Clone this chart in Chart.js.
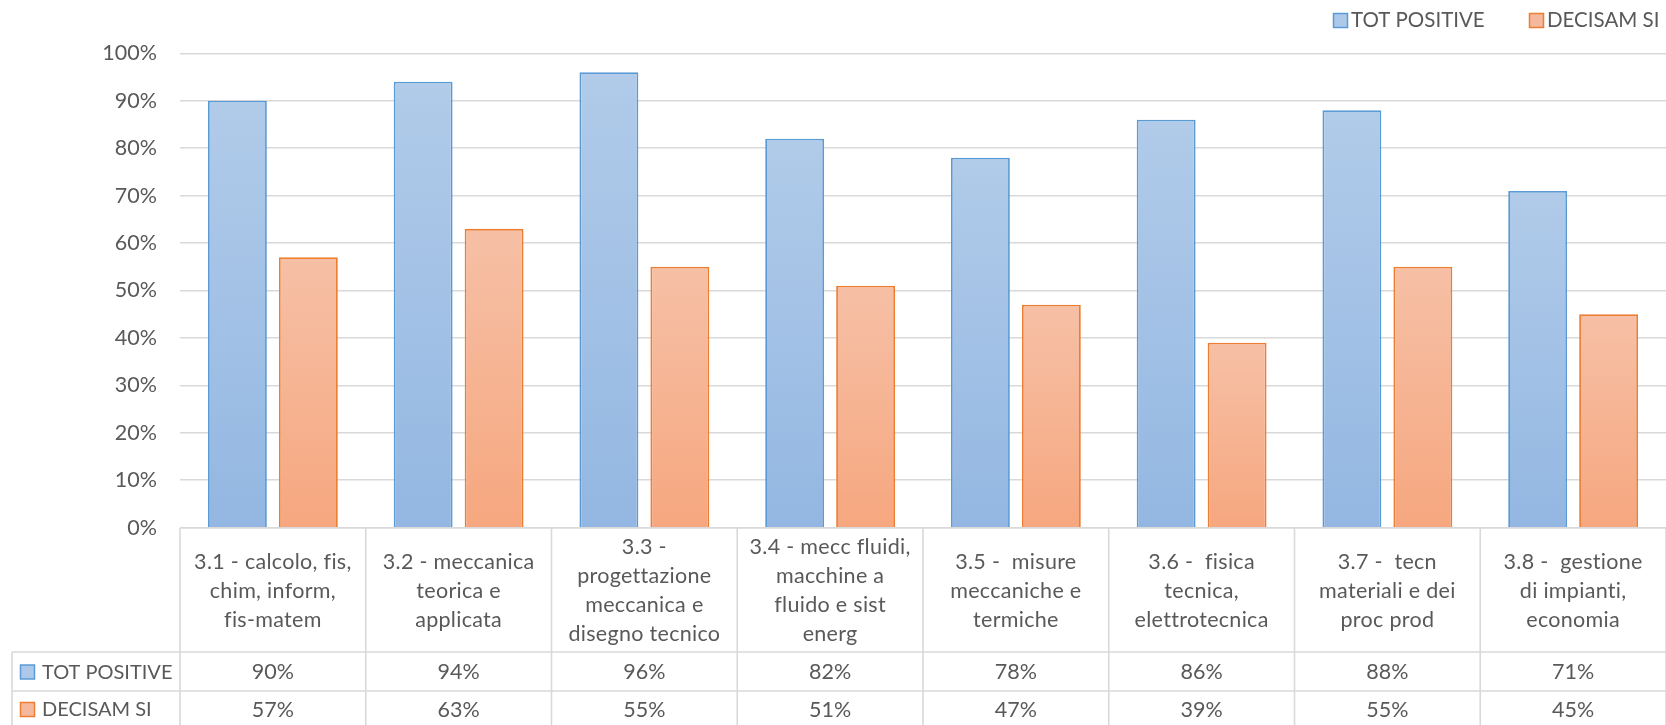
<!DOCTYPE html>
<html>
<head>
<meta charset="utf-8">
<script src="https://cdn.jsdelivr.net/npm/chart.js@4"></script>
<style>
  html, body { margin: 0; padding: 0; background: #ffffff; }
  #wrap { width: 1666px; height: 725px; }
</style>
</head>
<body>
<div id="wrap"><canvas id="c" width="1666" height="725"></canvas></div>
<script>
// Category labels (already wrapped into lines as they appear in the data table)
const categories = [
  ["3.1 - calcolo, fis,", "chim, inform,", "fis-matem"],
  ["3.2 - meccanica", "teorica e", "applicata"],
  ["3.3 -", "progettazione", "meccanica e", "disegno tecnico"],
  ["3.4 - mecc fluidi,", "macchine a", "fluido e sist", "energ"],
  ["3.5 -  misure", "meccaniche e", "termiche"],
  ["3.6 -  fisica", "tecnica,", "elettrotecnica"],
  ["3.7 -  tecn", "materiali e dei", "proc prod"],
  ["3.8 -  gestione", "di impianti,", "economia"]
];

// Series values, percent
const seriesNames = ["TOT POSITIVE", "DECISAM SI"];
const totPositive = [90, 94, 96, 82, 78, 86, 88, 71];
const decisamSi   = [57, 63, 55, 51, 47, 39, 55, 45];

// Y axis tick values, percent
const yTicks = [0, 10, 20, 30, 40, 50, 60, 70, 80, 90, 100];

const FONT = "Lato, 'Open Sans', sans-serif";
const TEXT = "#595959";
const GRID = "#d9d9d9";

const palette = [
  { border: "#5b9bd5", top: "#b1cbe9", bottom: "#93b7e2", key: "#adc8e8" },
  { border: "#ed7d31", top: "#f6c0a6", bottom: "#f6a77f", key: "#f5b89c" }
];

function barGradient(i) {
  return function (ctx) {
    const chart = ctx.chart;
    const p = palette[i];
    if (!chart.chartArea || ctx.type !== "data") return p.bottom;
    const ys = chart.scales.y;
    const top = ys.getPixelForValue(ctx.raw);
    const bottom = ys.getPixelForValue(0);
    if (!isFinite(top) || !isFinite(bottom) || bottom - top < 1) return p.bottom;
    const g = chart.ctx.createLinearGradient(0, top, 0, bottom);
    g.addColorStop(0, p.top);
    g.addColorStop(1, p.bottom);
    return g;
  };
}

// Legend box plus data table drawn under the plot area, aligned to the x scale
const dataTablePlugin = {
  id: "dataTable",
  afterDraw(chart) {
    const ctx = chart.ctx;
    const area = chart.chartArea;
    const xs = chart.scales.x;
    const n = categories.length;
    const colW = (area.right - area.left) / n;
    const tableLeft = 12;
    const row1Top = 652;
    const row2Top = 691;
    const tableBottom = chart.height;

    ctx.save();
    // grid of the table
    ctx.strokeStyle = GRID;
    ctx.lineWidth = 1.6;
    ctx.beginPath();
    ctx.moveTo(area.left, area.bottom); ctx.lineTo(area.right, area.bottom);
    ctx.moveTo(tableLeft, row1Top); ctx.lineTo(area.right, row1Top);
    ctx.moveTo(tableLeft, row2Top); ctx.lineTo(area.right, row2Top);
    for (let i = 0; i <= n; i++) {
      const x = area.left + i * colW;
      ctx.moveTo(x, area.bottom); ctx.lineTo(x, tableBottom);
    }
    ctx.moveTo(tableLeft, row1Top); ctx.lineTo(tableLeft, tableBottom);
    ctx.stroke();

    // category labels
    ctx.fillStyle = TEXT;
    ctx.font = "21.5px " + FONT;
    ctx.letterSpacing = "0.3px";
    ctx.textAlign = "center";
    ctx.textBaseline = "middle";
    const lineH = 28.9;
    const catMid = (area.bottom + row1Top) / 2 + 1;
    categories.forEach((lines, i) => {
      const cx = xs.getPixelForValue(i);
      const y0 = catMid - (lines.length - 1) * lineH / 2;
      lines.forEach((t, k) => ctx.fillText(t, cx, y0 + k * lineH));
    });

    // value rows
    const rows = [
      { values: totPositive, y: 672.5 },
      { values: decisamSi, y: 710 }
    ];
    ctx.letterSpacing = "0px";
    rows.forEach((r) => {
      r.values.forEach((v, i) => {
        ctx.fillText(v + "%", xs.getPixelForValue(i), r.y);
      });
    });

    // row headers with legend keys
    ctx.font = "20px " + FONT;
    ctx.textAlign = "left";
    rows.forEach((r, s) => {
      drawKey(ctx, 20.5, r.y - 7.5, s);
      ctx.fillStyle = TEXT;
      ctx.fillText(seriesNames[s], 42, r.y);
    });

    // top legend
    ctx.font = "20.5px " + FONT;
    const legendY = 20.5;
    const legendItems = [
      { key: 1333.5, text: 1351 },
      { key: 1529.5, text: 1547 }
    ];
    legendItems.forEach((it, s) => {
      drawKey(ctx, it.key, legendY - 7, s);
      ctx.fillStyle = TEXT;
      ctx.fillText(seriesNames[s], it.text, legendY);
    });
    ctx.restore();
  }
};

function drawKey(ctx, x, y, s) {
  const p = palette[s];
  ctx.fillStyle = p.key;
  ctx.fillRect(x, y, 14, 14);
  ctx.strokeStyle = p.border;
  ctx.lineWidth = 1.5;
  ctx.strokeRect(x, y, 14, 14);
}

new Chart(document.getElementById("c"), {
  type: "bar",
  data: {
    labels: categories,
    datasets: [
      {
        label: seriesNames[0],
        data: totPositive,
        backgroundColor: barGradient(0),
        borderColor: palette[0].border,
        borderWidth: 1.8,
        categoryPercentage: 0.764,
        barPercentage: 0.83
      },
      {
        label: seriesNames[1],
        data: decisamSi,
        backgroundColor: barGradient(1),
        borderColor: palette[1].border,
        borderWidth: 1.8,
        categoryPercentage: 0.764,
        barPercentage: 0.83
      }
    ]
  },
  options: {
    responsive: false,
    devicePixelRatio: 1,
    animation: false,
    layout: { padding: { top: 53.3, bottom: 197.3, left: 0, right: 0 } },
    plugins: {
      legend: { display: false },
      tooltip: { enabled: false }
    },
    scales: {
      x: { display: false },
      y: {
        min: 0,
        max: 100,
        afterFit(scale) { scale.width = 180; },
        afterBuildTicks(scale) { scale.ticks = yTicks.map(v => ({ value: v })); },
        border: { display: false },
        grid: { color: GRID, lineWidth: 1.6, drawTicks: false },
        ticks: {
          padding: 23,
          color: TEXT,
          font: { family: FONT, size: 21.5 },
          callback: v => v + "%"
        }
      }
    }
  },
  plugins: [dataTablePlugin]
});
</script>
</body>
</html>
